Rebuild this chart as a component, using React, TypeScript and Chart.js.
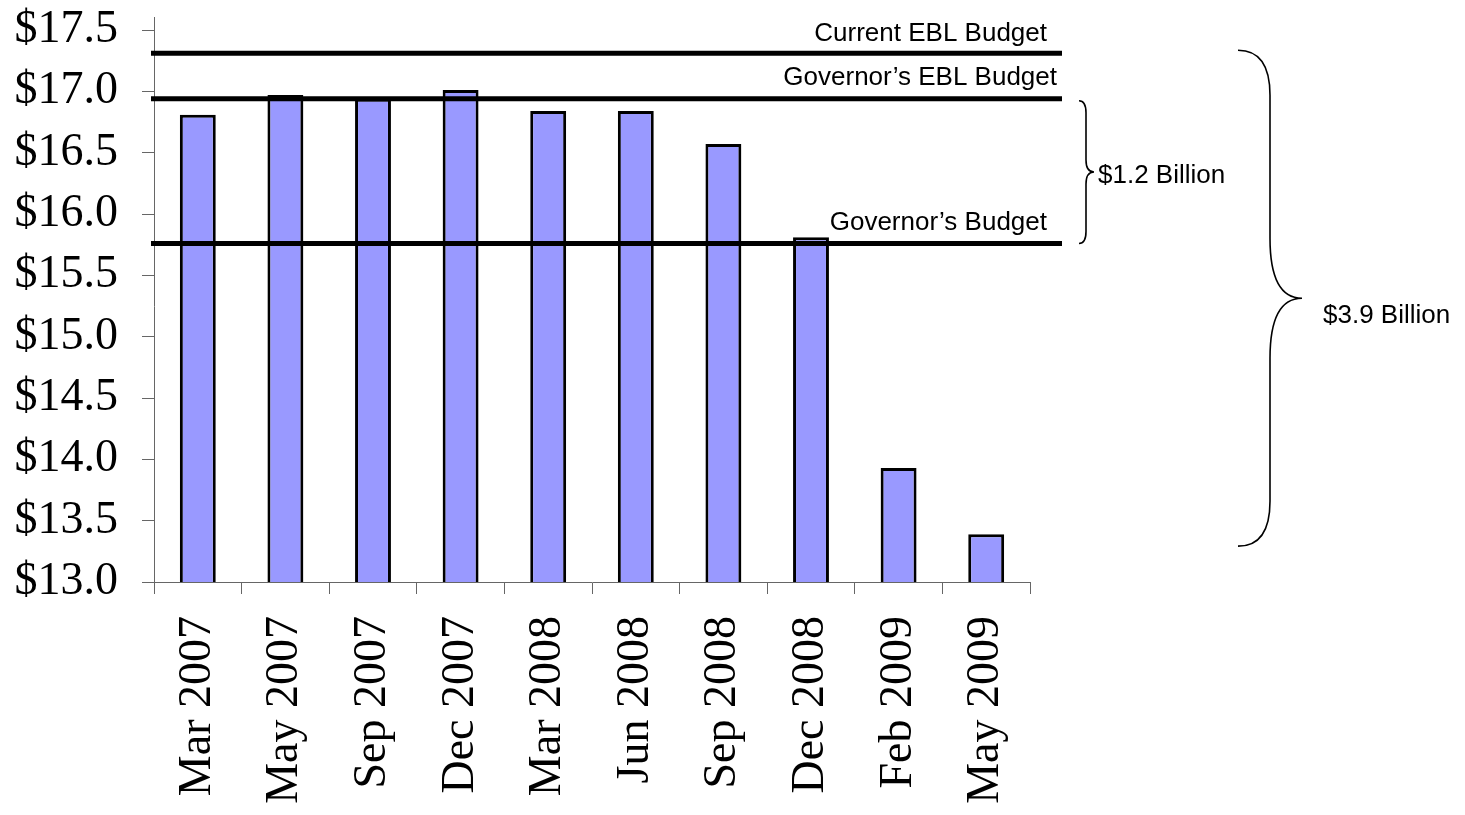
import React, { useEffect, useRef } from "react";
import { Chart, registerables } from "chart.js";

Chart.register(...registerables);

// ---- data ----
const categories = [
  "Mar 2007",
  "May 2007",
  "Sep 2007",
  "Dec 2007",
  "Mar 2008",
  "Jun 2008",
  "Sep 2008",
  "Dec 2008",
  "Feb 2009",
  "May 2009",
];
const revenueForecast = [16.81, 16.97, 16.94, 17.01, 16.84, 16.84, 16.57, 15.81, 13.93, 13.39];
const budgetLabels = ["Current EBL Budget", "Governor\u2019s EBL Budget", "Governor\u2019s Budget"];
const budgetValues = [17.31, 16.94, 15.76];
const braceLabels = ["$1.2 Billion", "$3.9 Billion"];
const yMin = 13.0;
const yMax = 17.5;
const yStep = 0.5;

const SERIF = '"Liberation Serif", "Times New Roman", serif';
const SANS = '"Liberation Sans", Arial, sans-serif';

function drawBrace(
  ctx: CanvasRenderingContext2D,
  x0: number,
  xb: number,
  xtip: number,
  top: number,
  bottom: number,
  rEnd: number,
  rMid: number
) {
  const mid = (top + bottom) / 2;
  ctx.beginPath();
  ctx.moveTo(x0, top);
  ctx.quadraticCurveTo(xb, top, xb, top + rEnd);
  ctx.lineTo(xb, mid - rMid);
  ctx.quadraticCurveTo(xb, mid, xtip, mid);
  ctx.quadraticCurveTo(xb, mid, xb, mid + rMid);
  ctx.lineTo(xb, bottom - rEnd);
  ctx.quadraticCurveTo(xb, bottom, x0, bottom);
  ctx.stroke();
}

const annotationPlugin = {
  id: "budgetAnnotations",
  afterDatasetsDraw(chart: any) {
    const { ctx, chartArea, scales } = chart;
    const y = scales.y;
    const left = chartArea.left - 3;
    const right = chartArea.right + 32;
    ctx.save();

    // small axis extension above top tick
    ctx.strokeStyle = "#666";
    ctx.lineWidth = 1;
    ctx.beginPath();
    ctx.moveTo(chartArea.left + 0.5, chartArea.top - 13);
    ctx.lineTo(chartArea.left + 0.5, chartArea.top);
    ctx.stroke();

    // budget lines
    ctx.strokeStyle = "#000";
    ctx.lineWidth = 5;
    const ys = budgetValues.map((v) => y.getPixelForValue(v));
    ys.forEach((py) => {
      ctx.beginPath();
      ctx.moveTo(left, py);
      ctx.lineTo(right, py);
      ctx.stroke();
    });

    // budget labels
    ctx.fillStyle = "#000";
    ctx.font = `26px ${SANS}`;
    ctx.textAlign = "right";
    ctx.textBaseline = "alphabetic";
    const labelRight = [right - 15, right - 5, right - 15];
    const labelGap = [12, 14, 13];
    budgetLabels.forEach((t, i) => {
      ctx.fillText(t, labelRight[i], ys[i] - labelGap[i]);
    });

    // braces
    ctx.lineWidth = 1.6;
    const sTop = ys[1] + 2;
    const sBot = ys[2];
    drawBrace(ctx, right + 17, right + 24, right + 32, sTop, sBot, 12, 12);
    const lTop = ys[0] - 3;
    const lBot = y.getPixelForValue(revenueForecast[revenueForecast.length - 1]) + 12;
    drawBrace(ctx, right + 176, right + 208, right + 240, lTop, lBot, 45, 60);

    ctx.textAlign = "left";
    ctx.textBaseline = "middle";
    ctx.fillText(braceLabels[0], right + 36, (sTop + sBot) / 2 + 4);
    ctx.fillText(braceLabels[1], right + 261, (lTop + lBot) / 2 + 18);

    ctx.restore();
  },
};

export default function App() {
  const canvasRef = useRef<HTMLCanvasElement | null>(null);

  useEffect(() => {
    if (!canvasRef.current) return;
    const chart = new Chart(canvasRef.current, {
      type: "bar",
      data: {
        labels: categories,
        datasets: [
          {
            data: revenueForecast,
            backgroundColor: "#9999FF",
            borderColor: "#000000",
            borderWidth: 3,
            borderSkipped: false,
            barPercentage: 0.41,
            categoryPercentage: 1,
          },
        ],
      },
      options: {
        animation: false,
        responsive: false,
        maintainAspectRatio: false,
        devicePixelRatio: 1,
        layout: { padding: { top: 30, right: 435, left: 0, bottom: 0 } },
        plugins: {
          legend: { display: false },
          tooltip: { enabled: false },
        },
        scales: {
          x: {
            grid: {
              drawOnChartArea: false,
              drawTicks: true,
              tickLength: 12,
              color: "#666",
              offset: true,
            },
            border: { color: "#666", width: 1 },
            ticks: {
              font: { family: SERIF, size: 46 },
              color: "#000",
              maxRotation: 90,
              minRotation: 90,
              padding: 22,
              autoSkip: false,
            },
            afterFit: (s: any) => {
              s.height = 233;
              s.paddingTop = 0;
              s.paddingBottom = 0;
              s.paddingLeft = 0;
              s.paddingRight = 0;
            },
          },
          y: {
            min: yMin,
            max: yMax,
            ticks: {
              stepSize: yStep,
              font: { family: SERIF, size: 46 },
              color: "#000",
              padding: 24,
              callback: (v: any) => "$" + Number(v).toFixed(1),
            },
            grid: {
              drawOnChartArea: false,
              drawTicks: true,
              tickLength: 12,
              color: "#666",
            },
            border: { color: "#666", width: 1 },
            afterFit: (s: any) => {
              s.width = 154;
              s.paddingTop = 0;
              s.paddingBottom = 0;
            },
          },
        },
      },
      plugins: [annotationPlugin],
    });
    return () => chart.destroy();
  }, []);

  return (
    <div style={{ position: "absolute", left: 0, top: 0, width: 1465, height: 815, background: "#fff" }}>
      <canvas ref={canvasRef} width={1465} height={815} style={{ display: "block" }} />
    </div>
  );
}
